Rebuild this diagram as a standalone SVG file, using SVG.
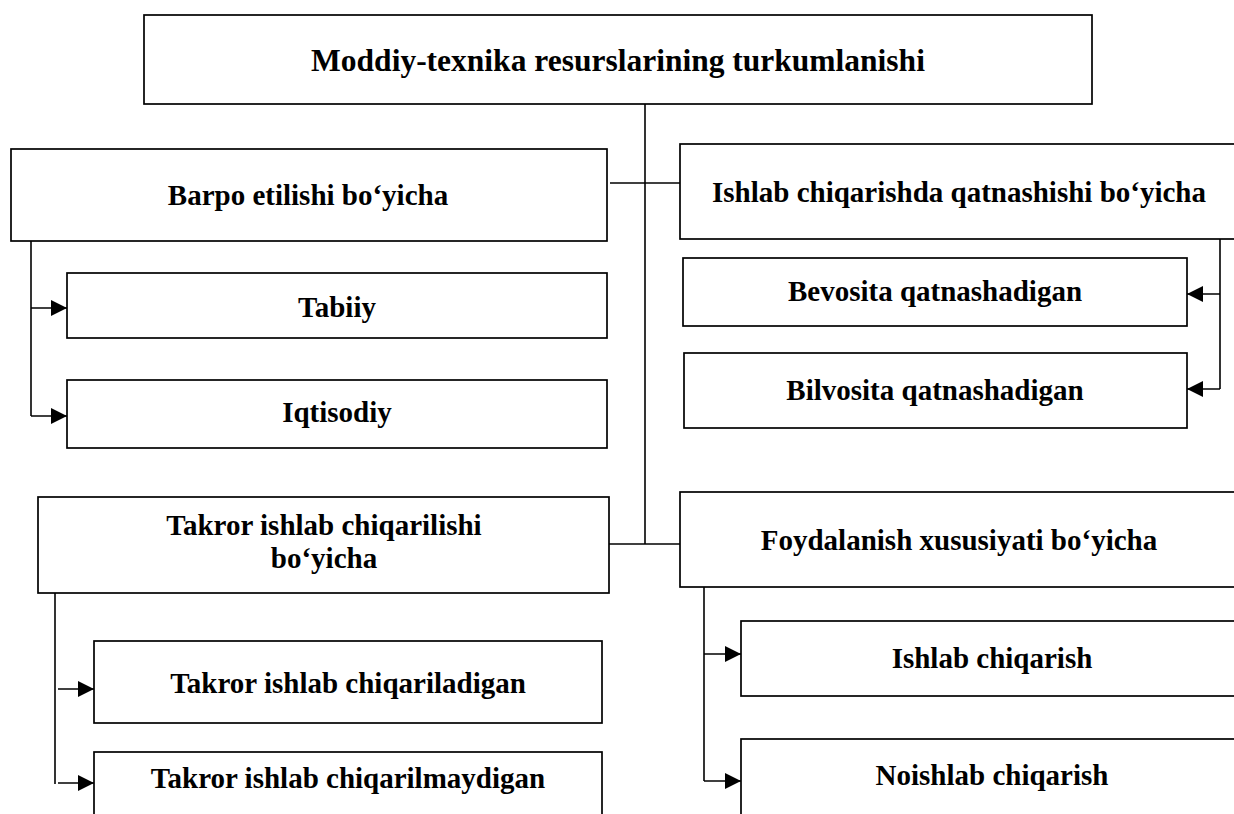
<svg xmlns="http://www.w3.org/2000/svg" width="1234" height="814" viewBox="0 0 1234 814">
<defs>
<style>
.box{fill:#fff;stroke:#000;stroke-width:1.7}
.ln{fill:none;stroke:#000;stroke-width:1.6}
.t{font-family:"Liberation Serif","Times New Roman",serif;font-weight:bold;font-size:29px;fill:#000;text-anchor:middle}
.tt{font-size:31.5px}
</style>
<marker id="ah" viewBox="0 0 16 16" refX="16" refY="8" markerWidth="16" markerHeight="16" markerUnits="userSpaceOnUse" orient="auto">
<path d="M0,0 L16,8 L0,16 Z" fill="#000"/>
</marker>
</defs>
<rect width="1234" height="814" fill="#fff"/>
<g id="connectors">
<line class="ln" x1="645" y1="104" x2="645" y2="544"/>
<line class="ln" x1="610" y1="183" x2="680" y2="183"/>
<line class="ln" x1="609" y1="544" x2="680" y2="544"/>
<polyline class="ln" points="31,241 31,416"/>
<line class="ln" x1="31" y1="308" x2="67" y2="308" marker-end="url(#ah)"/>
<line class="ln" x1="31" y1="416" x2="67" y2="416" marker-end="url(#ah)"/>
<polyline class="ln" points="1220,239 1220,389"/>
<line class="ln" x1="1220" y1="294" x2="1187" y2="294" marker-end="url(#ah)"/>
<line class="ln" x1="1220" y1="389" x2="1187" y2="389" marker-end="url(#ah)"/>
<polyline class="ln" points="55,593 55,784"/>
<line class="ln" x1="58" y1="689" x2="94" y2="689" marker-end="url(#ah)"/>
<line class="ln" x1="58" y1="783" x2="94" y2="783" marker-end="url(#ah)"/>
<polyline class="ln" points="704,587 704,781"/>
<line class="ln" x1="704" y1="654" x2="741" y2="654" marker-end="url(#ah)"/>
<line class="ln" x1="704" y1="781" x2="741" y2="781" marker-end="url(#ah)"/>
</g>
<g id="root">
<rect class="box" x="144" y="15" width="948" height="89"/>
<text class="t tt" x="618" y="71">Moddiy-texnika resurslarining turkumlanishi</text>
</g>
<g id="barpo">
<rect class="box" x="11" y="149" width="596" height="92"/>
<text class="t" x="308" y="205">Barpo etilishi bo‘yicha</text>
</g>
<g id="tabiiy">
<rect class="box" x="67" y="273" width="540" height="65"/>
<text class="t" x="337" y="317">Tabiiy</text>
</g>
<g id="iqtisodiy">
<rect class="box" x="67" y="380" width="540" height="68"/>
<text class="t" x="337" y="422">Iqtisodiy</text>
</g>
<g id="ishlab-qatnashish">
<rect class="box" x="680" y="144" width="560" height="95"/>
<text class="t" x="959" y="202">Ishlab chiqarishda qatnashishi bo‘yicha</text>
</g>
<g id="bevosita">
<rect class="box" x="683" y="258" width="504" height="68"/>
<text class="t" x="935" y="301">Bevosita qatnashadigan</text>
</g>
<g id="bilvosita">
<rect class="box" x="684" y="353" width="503" height="75"/>
<text class="t" x="935" y="400">Bilvosita qatnashadigan</text>
</g>
<g id="takror">
<rect class="box" x="38" y="497" width="571" height="96"/>
<text class="t" x="324" y="535">Takror ishlab chiqarilishi</text>
<text class="t" x="324" y="568">bo‘yicha</text>
</g>
<g id="takror-ha">
<rect class="box" x="94" y="641" width="508" height="82"/>
<text class="t" x="348" y="693">Takror ishlab chiqariladigan</text>
</g>
<g id="takror-yoq">
<rect class="box" x="94" y="752" width="508" height="80"/>
<text class="t" x="348" y="788">Takror ishlab chiqarilmaydigan</text>
</g>
<g id="foydalanish">
<rect class="box" x="680" y="492" width="560" height="95"/>
<text class="t" x="959" y="550">Foydalanish xususiyati bo‘yicha</text>
</g>
<g id="ishlab-chiqarish">
<rect class="box" x="741" y="621" width="503" height="75"/>
<text class="t" x="992" y="668">Ishlab chiqarish</text>
</g>
<g id="noishlab">
<rect class="box" x="741" y="739" width="503" height="90"/>
<text class="t" x="992" y="785">Noishlab chiqarish</text>
</g>
</svg>
